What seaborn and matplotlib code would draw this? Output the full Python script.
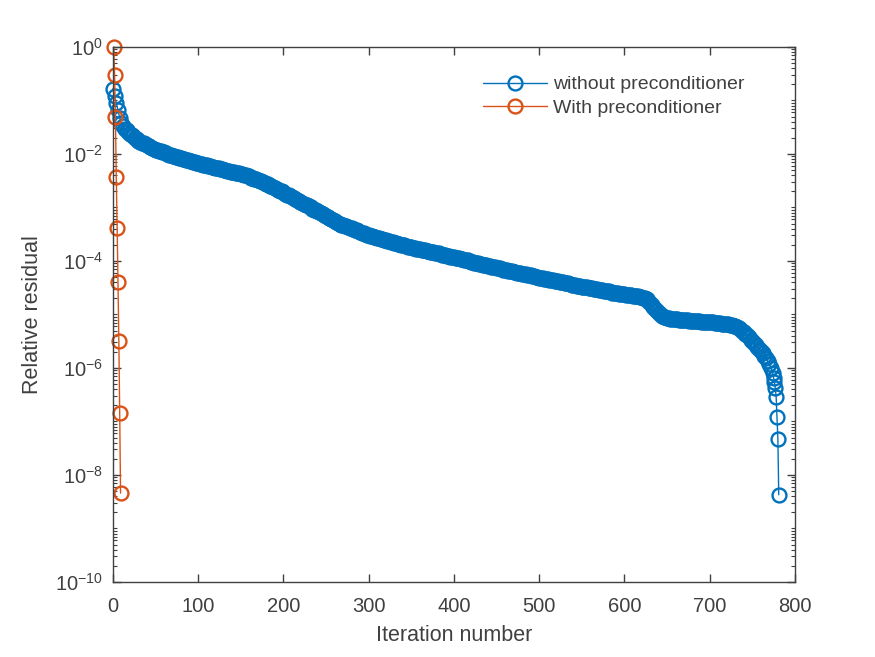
import numpy as np
import matplotlib
matplotlib.use("Agg")
import matplotlib.pyplot as plt
import seaborn as sns
from matplotlib.ticker import LogLocator, NullFormatter

# residual history, stored as log10(relative residual)
# blue: every 2nd iteration up to 774, then every iteration to the end
blue_iter = list(range(0, 775, 2)) + [775, 776, 777, 778, 779, 780, 781]
blue_log_res = [
    -0.78, -0.92, -1.05, -1.18, -1.32, -1.42, -1.48, -1.53, -1.56, -1.59, -1.62,
    -1.65, -1.67, -1.70, -1.72, -1.75, -1.77,
    -1.79, -1.80, -1.82, -1.84, -1.85, -1.87, -1.89, -1.90, -1.92,
    -1.93, -1.94, -1.95, -1.96, -1.97, -1.99, -2.00, -2.01, -2.02, -2.03,
    -2.04, -2.05, -2.06, -2.07, -2.08, -2.09, -2.10, -2.11, -2.12, -2.13,
    -2.14, -2.15, -2.15, -2.16, -2.17, -2.18, -2.19, -2.20, -2.20, -2.21, -2.22, -2.23, -2.24, -2.25, -2.26,
    -2.27, -2.27, -2.28, -2.29, -2.30, -2.30, -2.31, -2.32, -2.33, -2.33, -2.34, -2.35, -2.36, -2.36, -2.37,
    -2.38, -2.39, -2.40, -2.41, -2.42, -2.44, -2.45, -2.46, -2.47, -2.48,
    -2.50, -2.51, -2.53, -2.54, -2.56, -2.57, -2.59, -2.60, -2.62,
    -2.64, -2.65, -2.67, -2.69, -2.70, -2.72, -2.74, -2.76, -2.77, -2.79,
    -2.81, -2.82, -2.84, -2.86, -2.88, -2.89, -2.91, -2.93, -2.95, -2.96, -2.98,
    -3.00, -3.02, -3.04, -3.05, -3.07, -3.09, -3.11, -3.13, -3.15, -3.16, -3.18, -3.20, -3.22, -3.24, -3.26, -3.27, -3.29,
    -3.30, -3.32, -3.33, -3.34, -3.35, -3.37, -3.38, -3.39, -3.41, -3.42, -3.43, -3.44, -3.46, -3.47, -3.48, -3.49, -3.51, -3.52,
    -3.53, -3.54, -3.55, -3.56, -3.57, -3.57, -3.58, -3.59, -3.60, -3.61, -3.62, -3.63, -3.64, -3.65, -3.66, -3.67, -3.68, -3.69, -3.70,
    -3.71, -3.71, -3.72, -3.73, -3.74, -3.74, -3.75, -3.76, -3.77, -3.77, -3.78, -3.79, -3.80, -3.80, -3.81, -3.82,
    -3.83, -3.83, -3.84, -3.85, -3.86, -3.86, -3.87, -3.88, -3.89, -3.89, -3.90, -3.91, -3.92, -3.92, -3.93,
    -3.94, -3.95, -3.95, -3.96, -3.97, -3.98, -3.99, -3.99, -4.00, -4.01, -4.02, -4.03, -4.03,
    -4.04, -4.05, -4.06, -4.07, -4.07, -4.08, -4.09, -4.10, -4.11, -4.11, -4.12, -4.13,
    -4.14, -4.14, -4.15, -4.16, -4.17, -4.17, -4.18, -4.19, -4.19, -4.20, -4.21, -4.22, -4.22,
    -4.23, -4.24, -4.25, -4.25, -4.26, -4.27, -4.27, -4.28, -4.29, -4.30, -4.30, -4.31,
    -4.32, -4.32, -4.33, -4.34, -4.34, -4.35, -4.36, -4.36, -4.37, -4.38, -4.38, -4.39,
    -4.40, -4.40, -4.41, -4.42, -4.42, -4.43, -4.44, -4.44, -4.45, -4.46, -4.46, -4.47,
    -4.48, -4.48, -4.49, -4.49, -4.50, -4.51, -4.51, -4.52, -4.52, -4.53, -4.54,
    -4.54, -4.55, -4.56, -4.56, -4.57, -4.57, -4.58, -4.59, -4.59, -4.60,
    -4.60, -4.61, -4.61, -4.62, -4.62, -4.63, -4.63, -4.64, -4.64,
    -4.65, -4.65, -4.66, -4.66, -4.67, -4.68, -4.69, -4.70, -4.72,
    -4.75, -4.78, -4.82, -4.86, -4.90, -4.94, -4.97, -5.00, -5.02, -5.04,
    -5.05, -5.06, -5.07, -5.08, -5.08, -5.09, -5.09, -5.09, -5.10, -5.10,
    -5.10, -5.11, -5.11, -5.11, -5.12, -5.12, -5.12, -5.13, -5.13, -5.13, -5.13, -5.14, -5.14, -5.14, -5.14,
    -5.15, -5.15, -5.15, -5.15, -5.16, -5.16, -5.16, -5.16, -5.17, -5.17, -5.17, -5.18, -5.18, -5.19,
    -5.20, -5.21, -5.22, -5.23, -5.25, -5.27, -5.30, -5.33, -5.36, -5.39, -5.43, -5.47, -5.50,
    -5.53, -5.57, -5.60, -5.64, -5.68, -5.72, -5.77, -5.82, -5.87, -5.93, -6.00, -6.10,
    -6.18, -6.27, -6.38, -6.55, -6.92, -7.33, -8.37,
]

orange_iter = [1, 2, 3, 4, 5, 6, 7, 8, 9]
orange_log_res = [0.0, -0.52, -1.31, -2.43, -3.38, -4.39, -5.50, -6.84, -8.34]

labels = ["without preconditioner", "With preconditioner"]
blue = "#0072BD"
orange = "#D95319"
grey = "#404040"

blue_res = 10.0 ** np.array(blue_log_res)
orange_res = 10.0 ** np.array(orange_log_res)

sns.set_style("ticks")
plt.rcParams["font.family"] = ["Liberation Sans", "DejaVu Sans"]

fig = plt.figure(figsize=(8.75, 6.57), dpi=100)
ax = fig.add_axes([0.129, 0.1142, 0.7795, 0.8143])

style = dict(marker="o", markersize=10, markerfacecolor="none",
             markeredgewidth=1.7, linewidth=1.0, clip_on=False)
sns.lineplot(x=blue_iter, y=blue_res, ax=ax, color=blue, markeredgecolor=blue,
             label=labels[0], estimator=None, **style)
sns.lineplot(x=orange_iter, y=orange_res, ax=ax, color=orange, markeredgecolor=orange,
             label=labels[1], estimator=None, **style)

ax.set_yscale("log")
ax.set_xlim(0, 800)
ax.set_ylim(1e-10, 1)
ax.set_xticks(range(0, 801, 100))
ax.set_yticks([1e-10, 1e-8, 1e-6, 1e-4, 1e-2, 1])
ax.yaxis.set_minor_locator(LogLocator(base=10, subs=np.arange(1, 10) * 1.0, numticks=200))
ax.yaxis.set_minor_formatter(NullFormatter())

for side in ["top", "right", "left", "bottom"]:
    ax.spines[side].set_visible(True)
    ax.spines[side].set_color(grey)
    ax.spines[side].set_linewidth(1.0)
ax.tick_params(which="both", direction="in", top=True, right=True,
               colors=grey, labelcolor=grey, labelsize=14.5)
ax.tick_params(which="major", length=6, width=1.0)
ax.tick_params(which="minor", length=3, width=0.8)
ax.tick_params(axis="x", which="major", pad=11)
ax.tick_params(axis="y", which="major", pad=7)

ax.set_xlabel("Iteration number", fontsize=15.5, color=grey, labelpad=6)
ax.set_ylabel("Relative residual", fontsize=15.5, color=grey, labelpad=9)

ax.legend(loc="upper left", bbox_to_anchor=(0.543, 0.946), frameon=False,
          fontsize=14, handlelength=3.3, handletextpad=0.3, labelspacing=0.3,
          borderpad=0, borderaxespad=0, labelcolor=grey)

fig.savefig("out.png", dpi=100)
